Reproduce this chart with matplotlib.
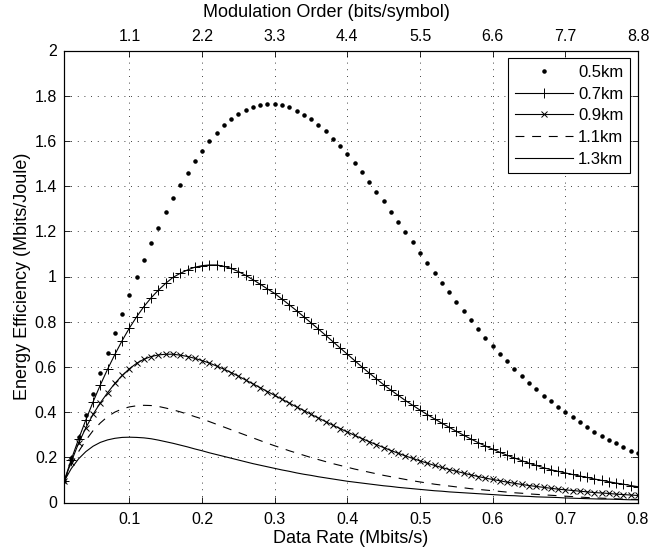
import matplotlib
matplotlib.use("Agg")
import matplotlib.pyplot as plt

plt.rcParams['font.family'] = ['Liberation Sans', 'DejaVu Sans']
plt.rcParams['font.size'] = 11

data_rate = [0.01, 0.02, 0.03, 0.04, 0.05, 0.06, 0.07, 0.08, 0.09, 0.10,
             0.11, 0.12, 0.13, 0.14, 0.15, 0.16, 0.17, 0.18, 0.19, 0.20,
             0.21, 0.22, 0.23, 0.24, 0.25, 0.26, 0.27, 0.28, 0.29, 0.30,
             0.31, 0.32, 0.33, 0.34, 0.35, 0.36, 0.37, 0.38, 0.39, 0.40,
             0.41, 0.42, 0.43, 0.44, 0.45, 0.46, 0.47, 0.48, 0.49, 0.50,
             0.51, 0.52, 0.53, 0.54, 0.55, 0.56, 0.57, 0.58, 0.59, 0.60,
             0.61, 0.62, 0.63, 0.64, 0.65, 0.66, 0.67, 0.68, 0.69, 0.70,
             0.71, 0.72, 0.73, 0.74, 0.75, 0.76, 0.77, 0.78, 0.79, 0.80]

ee_05km = [0.093, 0.196, 0.291, 0.387, 0.481, 0.573, 0.662, 0.750, 0.834, 0.917,
           0.997, 1.073, 1.147, 1.216, 1.284, 1.346, 1.406, 1.459, 1.511, 1.557,
           1.600, 1.636, 1.669, 1.697, 1.719, 1.737, 1.751, 1.760, 1.765, 1.765,
           1.759, 1.749, 1.734, 1.716, 1.696, 1.670, 1.642, 1.610, 1.576, 1.541,
           1.502, 1.461, 1.420, 1.375, 1.333, 1.287, 1.243, 1.197, 1.153, 1.105,
           1.061, 1.017, 0.973, 0.930, 0.887, 0.847, 0.806, 0.768, 0.729, 0.694,
           0.657, 0.625, 0.592, 0.560, 0.530, 0.501, 0.473, 0.448, 0.423, 0.399,
           0.377, 0.355, 0.333, 0.313, 0.296, 0.278, 0.262, 0.246, 0.229, 0.218]

ee_07km = [0.093, 0.190, 0.280, 0.365, 0.445, 0.520, 0.590, 0.655, 0.716, 0.772,
           0.822, 0.867, 0.906, 0.940, 0.970, 0.996, 1.014, 1.029, 1.041, 1.048,
           1.051, 1.051, 1.045, 1.036, 1.022, 1.005, 0.986, 0.966, 0.945, 0.925,
           0.900, 0.875, 0.849, 0.822, 0.795, 0.768, 0.740, 0.712, 0.684, 0.656,
           0.628, 0.600, 0.573, 0.547, 0.521, 0.497, 0.474, 0.451, 0.430, 0.409,
           0.389, 0.370, 0.351, 0.333, 0.315, 0.298, 0.281, 0.265, 0.250, 0.236,
           0.222, 0.209, 0.197, 0.185, 0.174, 0.164, 0.154, 0.145, 0.138, 0.131,
           0.124, 0.117, 0.111, 0.104, 0.098, 0.092, 0.086, 0.081, 0.075, 0.070]

ee_09km = [0.093, 0.180, 0.262, 0.330, 0.390, 0.441, 0.486, 0.527, 0.562, 0.592,
           0.616, 0.634, 0.646, 0.653, 0.656, 0.656, 0.652, 0.646, 0.638, 0.628,
           0.617, 0.604, 0.590, 0.575, 0.559, 0.542, 0.525, 0.508, 0.491, 0.474,
           0.457, 0.440, 0.423, 0.407, 0.390, 0.374, 0.358, 0.342, 0.327, 0.312,
           0.297, 0.283, 0.269, 0.256, 0.243, 0.230, 0.218, 0.206, 0.195, 0.184,
           0.174, 0.164, 0.155, 0.146, 0.138, 0.130, 0.122, 0.115, 0.108, 0.102,
           0.096, 0.090, 0.085, 0.080, 0.075, 0.071, 0.067, 0.063, 0.059, 0.056,
           0.053, 0.050, 0.047, 0.044, 0.042, 0.040, 0.037, 0.035, 0.033, 0.031]

ee_11km = [0.093, 0.165, 0.225, 0.275, 0.318, 0.352, 0.380, 0.400, 0.414, 0.423,
           0.428, 0.430, 0.429, 0.425, 0.418, 0.410, 0.401, 0.391, 0.380, 0.370,
           0.358, 0.346, 0.334, 0.322, 0.310, 0.298, 0.286, 0.274, 0.262, 0.251,
           0.240, 0.229, 0.219, 0.209, 0.199, 0.190, 0.181, 0.172, 0.164, 0.156,
           0.148, 0.141, 0.134, 0.127, 0.120, 0.114, 0.108, 0.102, 0.096, 0.091,
           0.086, 0.081, 0.077, 0.073, 0.069, 0.065, 0.061, 0.058, 0.055, 0.052,
           0.049, 0.046, 0.043, 0.041, 0.038, 0.036, 0.034, 0.032, 0.030, 0.028,
           0.026, 0.024, 0.022, 0.021, 0.019, 0.018, 0.016, 0.015, 0.014, 0.013]

ee_13km = [0.093, 0.150, 0.193, 0.225, 0.249, 0.266, 0.277, 0.284, 0.288, 0.289,
           0.288, 0.286, 0.282, 0.276, 0.269, 0.262, 0.254, 0.246, 0.237, 0.229,
           0.220, 0.212, 0.204, 0.196, 0.188, 0.180, 0.172, 0.165, 0.158, 0.151,
           0.144, 0.138, 0.131, 0.125, 0.120, 0.114, 0.109, 0.104, 0.099, 0.094,
           0.090, 0.086, 0.082, 0.078, 0.074, 0.071, 0.067, 0.064, 0.061, 0.058,
           0.055, 0.052, 0.050, 0.047, 0.045, 0.043, 0.041, 0.039, 0.037, 0.035,
           0.033, 0.031, 0.030, 0.028, 0.027, 0.025, 0.024, 0.023, 0.022, 0.020,
           0.019, 0.018, 0.017, 0.016, 0.015, 0.015, 0.014, 0.013, 0.012, 0.012]

series_labels = ["0.5km", "0.7km", "0.9km", "1.1km", "1.3km"]
x_ticks = [0.1, 0.2, 0.3, 0.4, 0.5, 0.6, 0.7, 0.8]
x_tick_labels = ["0.1", "0.2", "0.3", "0.4", "0.5", "0.6", "0.7", "0.8"]
mod_order_labels = ["1.1", "2.2", "3.3", "4.4", "5.5", "6.6", "7.7", "8.8"]
y_ticks = [0, 0.2, 0.4, 0.6, 0.8, 1.0, 1.2, 1.4, 1.6, 1.8, 2.0]
y_tick_labels = ["0", "0.2", "0.4", "0.6", "0.8", "1", "1.2", "1.4", "1.6", "1.8", "2"]

fig = plt.figure(figsize=(6.52, 5.53), dpi=100)
ax = fig.add_axes([64/652, 1 - 502.5/553, (638-64)/652, (502.5-50.5)/553])

lw = 0.8
ax.plot(data_rate, ee_05km, linestyle='none', marker='.', markersize=4.5,
        color='black', label=series_labels[0])
ax.plot(data_rate, ee_07km, linestyle='-', lw=lw, marker='+', markersize=7.5,
        markeredgewidth=0.7, color='black', label=series_labels[1])
ax.plot(data_rate, ee_09km, linestyle='-', lw=lw, marker='x', markersize=5,
        markeredgewidth=0.7, color='black', label=series_labels[2])
ax.plot(data_rate, ee_11km, linestyle=(0, (8, 7)), lw=lw, color='black',
        label=series_labels[3])
ax.plot(data_rate, ee_13km, linestyle='-', lw=lw, color='black',
        label=series_labels[4])

ax.set_xlim(0.01, 0.8)
ax.set_ylim(0, 2)
ax.set_xticks(x_ticks)
ax.set_xticklabels(x_tick_labels)
ax.set_yticks(y_ticks)
ax.set_yticklabels(y_tick_labels)
ax.tick_params(direction='in', length=4, width=0.6, top=False, right=True,
               labelsize=11.5)
ax.tick_params(axis='x', pad=7)
ax.tick_params(axis='y', pad=5)
ax.grid(True, color='black', linestyle=(0, (1, 7)), linewidth=0.6)
for s in ax.spines.values():
    s.set_linewidth(0.8)

ax.set_xlabel("Data Rate (Mbits/s)", fontsize=13, labelpad=2)
ax.set_ylabel("Energy Efficiency (Mbits/Joule)", fontsize=13, labelpad=3)

ax2 = ax.twiny()
ax2.set_xlim(ax.get_xlim())
ax2.set_xticks(x_ticks)
ax2.set_xticklabels(mod_order_labels)
ax2.tick_params(direction='in', length=4, width=0.6, labelsize=11.5, pad=5)
ax2.set_xlabel("Modulation Order (bits/symbol)", fontsize=13)
ax2.xaxis.set_label_coords(0.457, 1.083)
ax2.xaxis.label.set_verticalalignment('center')

leg = ax.legend(loc='upper right', bbox_to_anchor=(0.986, 0.983),
                fontsize=12, frameon=True, fancybox=False, numpoints=1,
                handlelength=3.5, handletextpad=0.3, borderpad=0.4,
                labelspacing=0.4, borderaxespad=0)
leg.get_frame().set_edgecolor('black')
leg.get_frame().set_linewidth(0.8)
leg.get_frame().set_alpha(1)

fig.savefig("out.png", dpi=100)
